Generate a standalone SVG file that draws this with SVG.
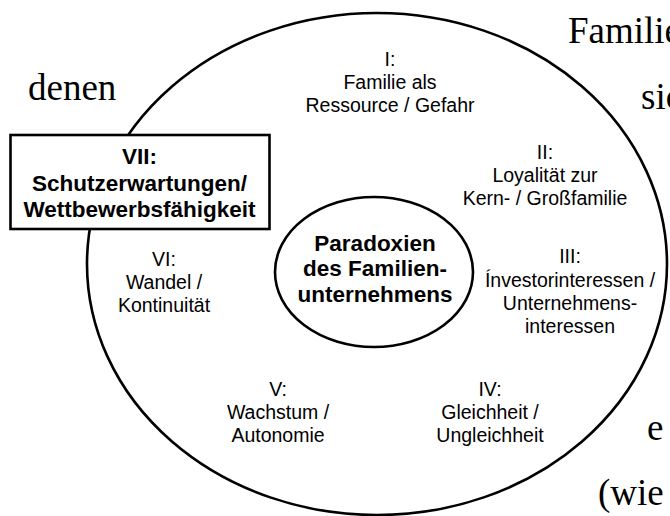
<svg xmlns="http://www.w3.org/2000/svg" width="670" height="516" viewBox="0 0 670 516">
<style>
.bg{fill:#fff}
.ln{fill:none;stroke:#000;stroke-width:2.6}
.box{fill:#fff;stroke:#000;stroke-width:2.6}
.wht{fill:#fff;stroke:#000;stroke-width:2.6}
.r{font-family:"Liberation Sans",Arial,sans-serif;font-size:19.5px;fill:#000;text-anchor:middle}
.b{font-family:"Liberation Sans",Arial,sans-serif;font-size:22.5px;font-weight:bold;fill:#000;text-anchor:middle}
.s{font-family:"Liberation Serif","Times New Roman",serif;font-size:37px;fill:#000}
</style>
<rect class="bg" x="0" y="0" width="670" height="516"/>
<g id="page-text">
<text class="s" x="568" y="43">Familie</text>
<text class="s" x="28" y="100">denen</text>
<text class="s" x="641" y="109">sic</text>
<text class="s" x="647" y="440">e</text>
<text class="s" x="598" y="505">(wie</text>
</g>
<g id="outer">
<ellipse class="ln" cx="377" cy="264" rx="290" ry="251"/>
</g>
<g id="connectors"></g>
<g id="p1">
<text class="r" x="390" y="66">I:</text>
<text class="r" x="390" y="89">Familie als</text>
<text class="r" x="390" y="112">Ressource / Gefahr</text>
</g>
<g id="p2">
<text class="r" x="545" y="159">II:</text>
<text class="r" x="545" y="182">Loyalität zur</text>
<text class="r" x="545" y="205">Kern- / Großfamilie</text>
</g>
<g id="p3">
<text class="r" x="570" y="263">III:</text>
<text class="r" x="570" y="287">Ínvestorinteressen /</text>
<text class="r" x="570" y="310">Unternehmens-</text>
<text class="r" x="570" y="333">interessen</text>
</g>
<g id="p4">
<text class="r" x="490" y="396">IV:</text>
<text class="r" x="490" y="419">Gleichheit /</text>
<text class="r" x="490" y="442">Ungleichheit</text>
</g>
<g id="p5">
<text class="r" x="278" y="396">V:</text>
<text class="r" x="278" y="419">Wachstum /</text>
<text class="r" x="278" y="442">Autonomie</text>
</g>
<g id="p6">
<text class="r" x="164" y="266">VI:</text>
<text class="r" x="164" y="289">Wandel /</text>
<text class="r" x="164" y="312">Kontinuität</text>
</g>
<g id="p7">
<rect class="box" x="10.5" y="135" width="259" height="94"/>
<text class="b" x="139.5" y="164">VII:</text>
<text class="b" x="139.5" y="191">Schutzerwartungen/</text>
<text class="b" x="139.5" y="217">Wettbewerbsfähigkeit</text>
</g>
<g id="center">
<ellipse class="wht" cx="374" cy="272" rx="99" ry="75"/>
<text class="b" x="375" y="251">Paradoxien</text>
<text class="b" x="375" y="276">des Familien-</text>
<text class="b" x="375" y="302">unternehmens</text>
</g>
</svg>
